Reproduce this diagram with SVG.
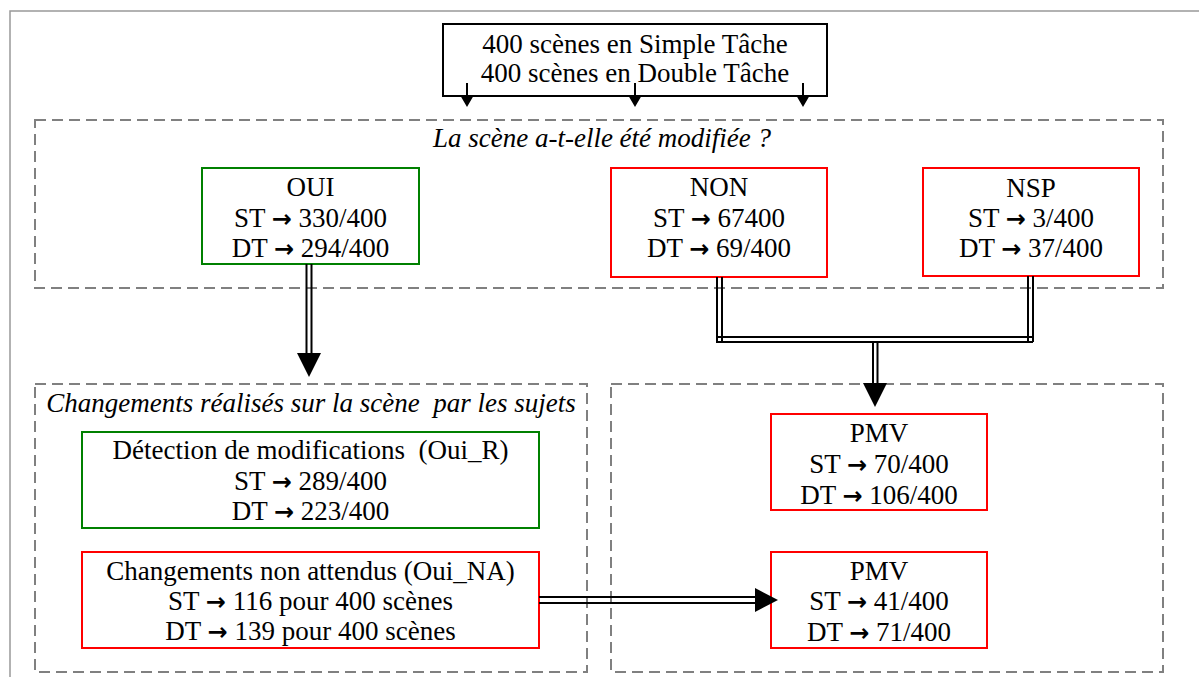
<svg xmlns="http://www.w3.org/2000/svg" width="1199" height="677" viewBox="0 0 1199 677">
<style>
text{font-family:"Liberation Serif","Times New Roman","DejaVu Serif",serif;font-size:27px;fill:#000;text-anchor:middle;white-space:pre}
.it{font-style:italic}
.ar{font-family:"DejaVu Sans",sans-serif;font-weight:bold;font-size:24px}
.frame{fill:none;stroke:#999;stroke-width:1.5}
.dash{fill:none;stroke:#808080;stroke-width:2;stroke-dasharray:11 6}
.g{fill:#fff;stroke:#008000;stroke-width:2}
.r{fill:#fff;stroke:#ff0000;stroke-width:2}
.k{fill:#fff;stroke:#000;stroke-width:2}
.ln{fill:none;stroke:#000;stroke-width:2}
.ah{fill:#000}
</style>
<rect width="1199" height="677" fill="#fff"/>
<path class="frame" d="M10,677 V11 H1199"/>
<g id="zones">
<rect class="dash" x="35" y="120" width="1128" height="168"/>
<rect class="dash" x="35" y="384" width="552" height="288"/>
<rect class="dash" x="611" y="384" width="552" height="288"/>
<text class="it" x="602" y="147">La scène a-t-elle été modifiée ?</text>
<text class="it" x="311" y="412" xml:space="preserve">Changements réalisés sur la scène  par les sujets</text>
</g>
<g id="source">
<rect class="k" x="443" y="24" width="384" height="72"/>
<text x="635" y="53">400 scènes en Simple Tâche</text>
<text x="635" y="82">400 scènes en Double Tâche</text>
</g>
<g id="oui">
<rect class="g" x="202" y="168" width="217" height="96"/>
<text x="310.5" y="196">OUI</text>
<text x="310.5" y="227">ST <tspan class="ar">→</tspan> 330/400</text>
<text x="310.5" y="257">DT <tspan class="ar">→</tspan> 294/400</text>
</g>
<g id="non">
<rect class="r" x="611" y="168" width="216" height="109"/>
<text x="719" y="196">NON</text>
<text x="719" y="227">ST <tspan class="ar">→</tspan> 67400</text>
<text x="719" y="257">DT <tspan class="ar">→</tspan> 69/400</text>
</g>
<g id="nsp">
<rect class="r" x="923" y="168" width="216" height="108"/>
<text x="1031" y="197">NSP</text>
<text x="1031" y="227">ST <tspan class="ar">→</tspan> 3/400</text>
<text x="1031" y="257">DT <tspan class="ar">→</tspan> 37/400</text>
</g>
<g id="detection">
<rect class="g" x="82" y="432" width="457" height="96"/>
<text x="310.5" y="459" xml:space="preserve">Détection de modifications  (Oui_R)</text>
<text x="310.5" y="490">ST <tspan class="ar">→</tspan> 289/400</text>
<text x="310.5" y="520">DT <tspan class="ar">→</tspan> 223/400</text>
</g>
<g id="non-attendus">
<rect class="r" x="82" y="552" width="457" height="96"/>
<text x="310.5" y="580">Changements non attendus (Oui_NA)</text>
<text x="310.5" y="610">ST <tspan class="ar">→</tspan> 116 pour 400 scènes</text>
<text x="310.5" y="640">DT <tspan class="ar">→</tspan> 139 pour 400 scènes</text>
</g>
<g id="pmv1">
<rect class="r" x="771" y="414" width="216" height="96"/>
<text x="879" y="442">PMV</text>
<text x="879" y="473">ST <tspan class="ar">→</tspan> 70/400</text>
<text x="879" y="504">DT <tspan class="ar">→</tspan> 106/400</text>
</g>
<g id="pmv2">
<rect class="r" x="771" y="552" width="216" height="96"/>
<text x="879" y="580">PMV</text>
<text x="879" y="610">ST <tspan class="ar">→</tspan> 41/400</text>
<text x="879" y="641">DT <tspan class="ar">→</tspan> 71/400</text>
</g>
<g id="connectors">
<path class="ln" d="M467,83 V97 M635,83 V97 M803,83 V97"/>
<path class="ah" d="M460,95 H474 L467,107 Z M628,95 H642 L635,107 Z M796,95 H810 L803,107 Z"/>
<path class="ln" d="M306.5,264 V356 M311.5,264 V356"/>
<path class="ah" d="M297,353 H321 L309,377 Z"/>
<path class="ln" d="M717,277 V343 M722,277 V343 M717,337 H1033 M717,342 H1033 M1028,276 V342 M1033,276 V342"/>
<path class="ln" d="M873,343 V386 M877.5,343 V386"/>
<path class="ah" d="M863,383 H887 L875,407 Z"/>
<path class="ln" d="M539,597 H758 M539,603 H758"/>
<path class="ah" d="M755,588 V612 L778,600 Z"/>
</g>
</svg>
